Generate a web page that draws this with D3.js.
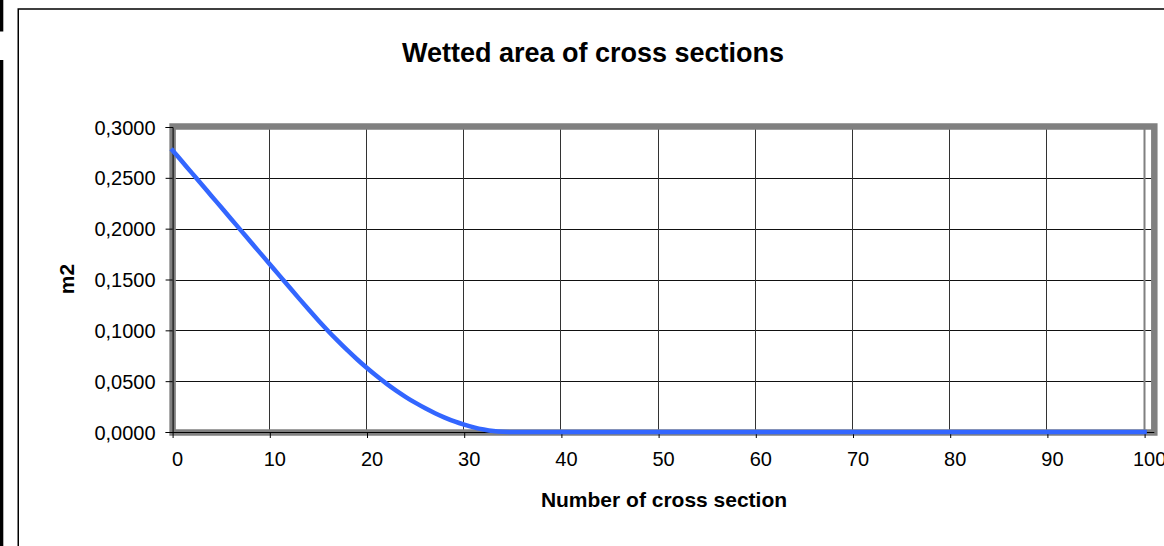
<!DOCTYPE html>
<html><head><meta charset="utf-8">
<script src="https://cdn.jsdelivr.net/npm/d3@7"></script>
<style>html,body{margin:0;padding:0;background:#fff;}svg{display:block;font-family:"Liberation Sans",Arial,sans-serif;}</style>
</head><body>
<script>
const title = "Wetted area of cross sections";
const xTitle = "Number of cross section";
const yTitle = "m2";
const xTicks = [0,10,20,30,40,50,60,70,80,90,100];
const yTicks = [0,0.05,0.1,0.15,0.2,0.25,0.3];
const crossSection = d3.range(0,101);
const wettedArea = [
 0.2770,0.2658,0.2546,0.2434,0.2322,0.2210,0.2098,0.1986,0.1874,0.1762,
 0.1650,0.1538,0.1426,0.1314,0.1204,0.1097,0.0994,0.0896,0.0802,0.0713,
 0.0629,0.0550,0.0476,0.0407,0.0344,0.0286,0.0233,0.0185,0.0142,0.0104,
 0.0072,0.0045,0.0024,0.0009,0.0002,0,0,0,0,0,
 0,0,0,0,0,0,0,0,0,0,
 0,0,0,0,0,0,0,0,0,0,
 0,0,0,0,0,0,0,0,0,0,
 0,0,0,0,0,0,0,0,0,0,
 0,0,0,0,0,0,0,0,0,0,
 0,0,0,0,0,0,0,0,0,0,
 0];

const W=1164,H=546;
const svg=d3.select("body").append("svg").attr("width",W).attr("height",H);

// cropped spreadsheet edge artefacts
svg.append("rect").attr("x",0).attr("y",0).attr("width",3.3).attr("height",31.5).attr("fill","#000");
svg.append("rect").attr("x",0).attr("y",60).attr("width",3.3).attr("height",H-60).attr("fill","#000");
// chart area border
svg.append("rect").attr("x",18.25).attr("y",9).attr("width",W).attr("height",H).attr("fill","#fff").attr("stroke","#000").attr("stroke-width",1.5);

const x=d3.scaleLinear().domain([0,101]).range([172.6,172.6+101*9.72]);
const y=d3.scaleLinear().domain([0,0.3]).range([432,127]);

// gridlines
const g=svg.append("g");
g.selectAll(".hg").data(yTicks.filter(d=>d>0&&d<0.3)).join("line")
 .attr("x1",x(0)).attr("x2",x(101)).attr("y1",d=>Math.round(y(d))+0.5).attr("y2",d=>Math.round(y(d))+0.5)
 .attr("stroke","#111").attr("stroke-width",1);
g.selectAll(".vg").data(xTicks.filter(d=>d>0)).join("line")
 .attr("y1",y(0.3)).attr("y2",y(0)).attr("x1",d=>Math.round(x(d))-0.5).attr("x2",d=>Math.round(x(d))-0.5)
 .attr("stroke",d=>d===100?"#808080":"#333").attr("stroke-width",d=>d===100?2:1);

// plot area frame
svg.append("rect").attr("x",x(0)).attr("y",y(0.3)-0.5).attr("width",x(101)-x(0)).attr("height",y(0)-y(0.3)+1)
 .attr("fill","none").attr("stroke","#808080").attr("stroke-width",6.5);

// axes
const yAxis=d3.axisLeft(y).tickValues(yTicks).tickSize(7).tickPadding(10)
 .tickFormat(d=>d3.format(".4f")(d).replace(".",","));
const ya=svg.append("g").attr("transform",`translate(${x(0)},0)`).call(yAxis);
ya.select(".domain").attr("stroke","#000");
ya.selectAll(".tick line").attr("stroke","#000");
ya.selectAll("text").attr("font-size",20).attr("fill","#000").attr("font-family","Liberation Sans, Arial, sans-serif").attr("dy","0.35em");

const xAxis=d3.axisBottom(x).tickValues(xTicks).tickSize(6).tickPadding(14);
const xa=svg.append("g").attr("transform",`translate(0,${y(0)})`).call(xAxis);
xa.select(".domain").attr("stroke","#000").attr("d",`M${x(0)},0.5H${x(101)}`);
xa.selectAll(".tick line").attr("stroke","#000");
xa.selectAll("text").attr("font-size",20).attr("fill","#000").attr("font-family","Liberation Sans, Arial, sans-serif").attr("dx",4.5);

// series
const line=d3.line().x((d,i)=>x(crossSection[i])).y(d=>y(d)).curve(d3.curveMonotoneX);
svg.append("path").datum(wettedArea).attr("d",line).attr("fill","none")
 .attr("stroke","#3366FF").attr("stroke-width",4.5).attr("stroke-linecap","square").attr("stroke-linejoin","round");

// titles
svg.append("text").attr("x",593).attr("y",62).attr("text-anchor","middle")
 .attr("font-size",27).attr("font-weight","bold").text(title);
svg.append("text").attr("x",664).attr("y",507).attr("text-anchor","middle")
 .attr("font-size",21).attr("font-weight","bold").text(xTitle);
svg.append("text").attr("transform","translate(74,279) rotate(-90)").attr("text-anchor","middle")
 .attr("font-size",21).attr("font-weight","bold").text(yTitle);
</script>
</body></html>
